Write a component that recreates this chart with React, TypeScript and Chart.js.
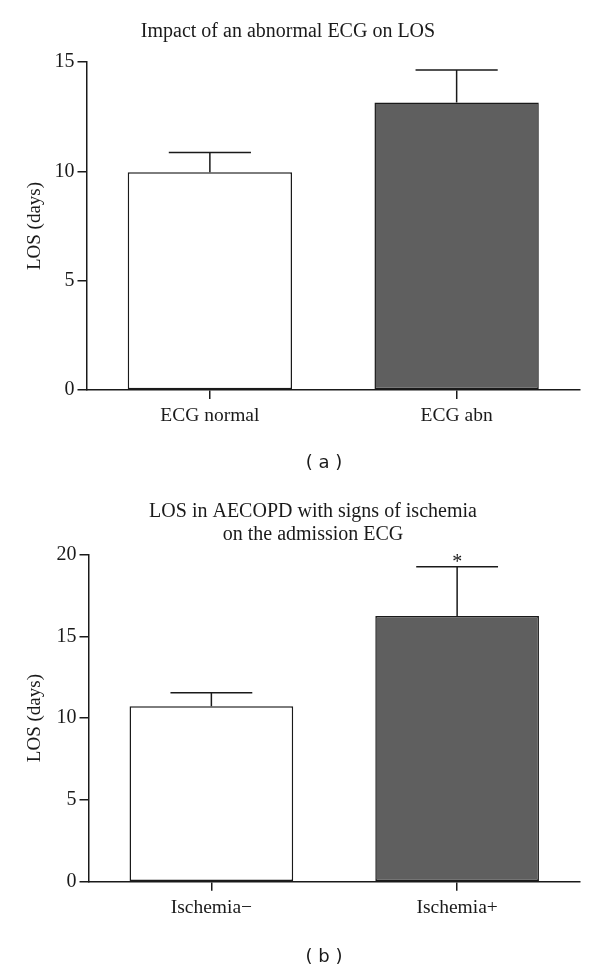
import React, { useEffect, useRef } from "react";
import { Chart, registerables } from "chart.js";

Chart.register(...registerables);

// ---- Data ----
const panelACategories = ["ECG normal", "ECG abn"];
const panelAMeans = [9.96, 13.15];
const panelASem = [0.9, 1.48];
const panelATitle = ["Impact of an abnormal ECG on LOS"];
const panelAYTicksMax = 15;

const panelBCategories = ["Ischemia\u2212", "Ischemia+"];
const panelBMeans = [10.72, 16.24];
const panelBSem = [0.83, 3.01];
const panelBMarks = ["", "*"];
const panelBTitle = ["LOS in AECOPD with signs of ischemia", "on the admission ECG"];
const panelBYTicksMax = 20;

const barColors = ["#ffffff", "#5f5f5f"];
const yAxisLabel = "LOS (days)";

const SERIF = '"Liberation Serif", "Times New Roman", "DejaVu Serif", serif';
const SANS = '"DejaVu Sans", "Liberation Sans", sans-serif';
const INK = "#1a1a1a";

type PanelProps = {
  categories: string[];
  means: number[];
  sem: number[];
  marks: string[];
  yMax: number;
  title: string[];
  titleX: number;
  titleY: number;
  caption: string;
  captionX: number;
  captionY: number;
  padTop: number;
  yWidth: number;
  xHeight: number;
};

function Panel(p: PanelProps) {
  const ref = useRef<HTMLCanvasElement | null>(null);
  useEffect(() => {
    if (!ref.current) return;
    const extras = {
      id: "extras",
      afterDatasetsDraw(chart: any) {
        const ctx = chart.ctx;
        const meta = chart.getDatasetMeta(0);
        const ys = chart.scales.y;
        ctx.save();
        ctx.strokeStyle = INK;
        ctx.lineWidth = 1.5;
        meta.data.forEach((el: any, i: number) => {
          const x = el.x;
          const w = el.width;
          const top = ys.getPixelForValue(p.means[i] + p.sem[i]);
          ctx.beginPath();
          ctx.moveTo(x, el.y);
          ctx.lineTo(x, top);
          ctx.moveTo(x - w / 4, top);
          ctx.lineTo(x + w / 4, top);
          ctx.stroke();
          if (p.marks[i]) {
            ctx.fillStyle = INK;
            ctx.font = `20px ${SERIF}`;
            ctx.textAlign = "center";
            ctx.textBaseline = "alphabetic";
            ctx.fillText(p.marks[i], x, top + 1);
          }
        });
        ctx.restore();
      },
      afterDraw(chart: any) {
        const ctx = chart.ctx;
        ctx.save();
        ctx.fillStyle = INK;
        ctx.textAlign = "center";
        ctx.textBaseline = "alphabetic";
        ctx.font = `20px ${SERIF}`;
        p.title.forEach((line, i) => {
          ctx.fillText(line, p.titleX, p.titleY + i * 23);
        });
        ctx.font = `18px ${SANS}`;
        ctx.textBaseline = "middle";
        ctx.fillText(p.caption, p.captionX, p.captionY);
        ctx.restore();
      },
    };
    const chart = new Chart(ref.current, {
      type: "bar",
      data: {
        labels: p.categories,
        datasets: [
          {
            data: p.means,
            backgroundColor: barColors,
            borderColor: INK,
            borderWidth: 1.5,
            borderSkipped: false,
            barPercentage: 0.666,
            categoryPercentage: 1,
          },
        ],
      },
      options: {
        responsive: false,
        animation: false,
        layout: { padding: { left: 0, right: 20, top: p.padTop, bottom: 0 } },
        plugins: {
          legend: { display: false },
          tooltip: { enabled: false },
          title: { display: false },
        },
        scales: {
          x: {
            offset: true,
            grid: {
              offset: false,
              drawOnChartArea: false,
              drawTicks: true,
              tickLength: 9,
              color: INK,
              lineWidth: 1.5,
            },
            border: { color: INK, width: 1.5 },
            ticks: { color: INK, font: { family: SERIF, size: 19.5 }, padding: 5 },
            afterFit: (s: any) => {
              s.height = p.xHeight;
            },
          },
          y: {
            min: 0,
            max: p.yMax,
            ticks: { stepSize: 5, color: INK, font: { family: SERIF, size: 20 }, padding: 3 },
            grid: {
              drawOnChartArea: false,
              drawTicks: true,
              tickLength: 9,
              color: INK,
              lineWidth: 1.5,
            },
            border: { color: INK, width: 1.5 },
            title: {
              display: true,
              text: yAxisLabel,
              color: INK,
              font: { family: SERIF, size: 19 },
              padding: { top: 24, bottom: 0 },
            },
            afterFit: (s: any) => {
              s.width = p.yWidth;
            },
          },
        },
      },
      plugins: [extras],
    });
    return () => chart.destroy();
  }, []);
  return (
    <div style={{ width: 600, height: 486 }}>
      <canvas ref={ref} width={600} height={486} style={{ display: "block" }} />
    </div>
  );
}

export default function App() {
  return (
    <div
      style={{
        position: "fixed",
        left: 0,
        top: 0,
        width: 600,
        height: 972,
        background: "#ffffff",
      }}
    >
      <Panel
        categories={panelACategories}
        means={panelAMeans}
        sem={panelASem}
        marks={["", ""]}
        yMax={panelAYTicksMax}
        title={panelATitle}
        titleX={288}
        titleY={37}
        caption="( a )"
        captionX={324}
        captionY={463}
        padTop={62}
        yWidth={86.5}
        xHeight={96}
      />
      <Panel
        categories={panelBCategories}
        means={panelBMeans}
        sem={panelBSem}
        marks={panelBMarks}
        yMax={panelBYTicksMax}
        title={panelBTitle}
        titleX={313}
        titleY={31}
        caption="( b )"
        captionX={324}
        captionY={471}
        padTop={68.5}
        yWidth={88.5}
        xHeight={90.3}
      />
    </div>
  );
}
